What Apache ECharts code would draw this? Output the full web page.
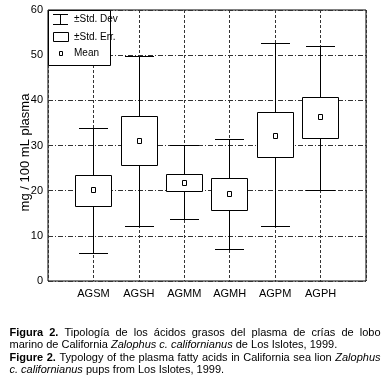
<!DOCTYPE html>
<html>
<head>
<meta charset="utf-8">
<script src="https://cdn.jsdelivr.net/npm/echarts@6/dist/echarts.min.js"></script>
<style>html,body{margin:0;padding:0;background:#fff}#c{width:384px;height:384px}</style>
</head>
<body>
<div id="c"></div>
<script>
// ---- data ----
const categories = ['AGSM', 'AGSH', 'AGMM', 'AGMH', 'AGPM', 'AGPH'];
const meanValues = [20.1, 31.0, 21.8, 19.3, 32.2, 36.2];
const seUpper    = [23.4, 36.5, 23.6, 22.7, 37.3, 40.7];
const seLower    = [16.6, 25.7, 19.9, 15.6, 27.4, 31.7];
const sdUpper    = [33.9, 49.8, 30.0, 31.4, 52.6, 52.0];
const sdLower    = [ 6.1, 12.1, 13.7,  7.0, 12.1, 20.0];
const yMin = 0, yMax = 60, yStep = 10;
const yTitle = 'mg / 100 mL plasma';
const legendLabels = ['±Std. Dev', '±Std. Err.', 'Mean'];

const captionLines = [
  [['Figura','b'],['2.','b'],['Tipología'],['de'],['los'],['ácidos'],['grasos'],['del'],['plasma'],['de'],['crías'],['de'],['lobo']],
  [['marino'],['de'],['California'],['Zalophus','i'],['c.','i'],['californianus','i'],['de'],['Los'],['Islotes,'],['1999.']],
  [['Figure','b'],['2.','b'],['Typology'],['of'],['the'],['plasma'],['fatty'],['acids'],['in'],['California'],['sea'],['lion'],['Zalophus','i']],
  [['c.','i'],['californianus','i'],['pups'],['from'],['Los'],['Islotes,'],['1999.']]
];

const NARROW = '"Liberation Sans Narrow", "Arial Narrow", "Liberation Sans", sans-serif';
const SANS = '"Liberation Sans", Arial, sans-serif';

const chart = echarts.init(document.getElementById('c'), null, {renderer: 'canvas'});

const seriesData = categories.map((c, i) => [i + 1, sdLower[i], seLower[i], meanValues[i], seUpper[i], sdUpper[i]]);

// same half-pixel snapping that zrender applies to 1px axis split lines
function sp(p) {
  const rp = Math.round(p * 2);
  return (rp + 1) % 2 === 0 ? rp / 2 : (rp + 1) / 2;
}

function renderItem(params, api) {
  const x = api.value(0);
  const p = v => api.coord([x, v]);
  const unit = api.size([1, 0])[0];
  const boxW = Math.round(unit * 0.8);
  const capW = Math.round(unit * 0.63);
  const top = p(api.value(5)), seT = p(api.value(4)), m = p(api.value(3)), seB = p(api.value(2)), bot = p(api.value(1));
  const cx = sp(top[0]);
  const st = {stroke: '#000', lineWidth: 1};
  const yT = sp(top[1]), yST = sp(seT[1]), yM = Math.round(m[1]), ySB = sp(seB[1]), yB = sp(bot[1]);
  return {
    type: 'group',
    children: [
      {type: 'line', shape: {x1: cx, y1: yT, x2: cx, y2: yST}, style: st},
      {type: 'line', shape: {x1: cx - capW / 2, y1: yT, x2: cx + capW / 2, y2: yT}, style: st},
      {type: 'line', shape: {x1: cx, y1: ySB, x2: cx, y2: yB}, style: st},
      {type: 'line', shape: {x1: cx - capW / 2, y1: yB, x2: cx + capW / 2, y2: yB}, style: st},
      {type: 'rect', shape: {x: cx - boxW / 2, y: yST, width: boxW, height: ySB - yST}, style: {fill: '#fff', stroke: '#000', lineWidth: 1}},
      {type: 'rect', shape: {x: cx - 2, y: yM - 2.5, width: 4, height: 5}, style: {fill: '#fff', stroke: '#000', lineWidth: 1}}
    ]
  };
}

// ---- caption layout (measured text, justified lines) ----
const mctx = document.createElement('canvas').getContext('2d');
function fontOf(st) {
  return (st === 'i' ? 'italic ' : 'normal ') + (st === 'b' ? 'bold ' : 'normal ') + '11px ' + SANS;
}
function wWidth(w) { mctx.font = fontOf(w[1]); return mctx.measureText(w[0]).width; }
mctx.font = fontOf();
const spaceW = mctx.measureText(' ').width;
const capLeft = 9.5, capRight = 380.5;
const lineYs = [332.5, 345, 357.5, 369.8];
const justified = [true, false, true, false];
const captionGraphics = [];
captionLines.forEach((line, li) => {
  const widths = line.map(w => wWidth(w));
  const total = widths.reduce((a, b) => a + b, 0);
  const gap = justified[li] ? (capRight - capLeft - total) / (line.length - 1) : spaceW;
  let x = capLeft;
  line.forEach((w, wi) => {
    captionGraphics.push({
      type: 'text', x: x, y: lineYs[li], z: 100,
      style: {text: w[0], font: fontOf(w[1]), fill: '#000', align: 'left', verticalAlign: 'middle'}
    });
    x += widths[wi] + gap;
  });
});

const legendGraphics = [
  {type: 'rect', z: 100, shape: {x: 48.5, y: 10.5, width: 62, height: 55}, style: {fill: '#fff', stroke: '#000', lineWidth: 1}},
  {type: 'line', z: 101, shape: {x1: 60.5, y1: 14.5, x2: 60.5, y2: 24.5}, style: {stroke: '#000', lineWidth: 1}},
  {type: 'line', z: 101, shape: {x1: 53, y1: 14.5, x2: 68, y2: 14.5}, style: {stroke: '#000', lineWidth: 1}},
  {type: 'line', z: 101, shape: {x1: 53, y1: 24.5, x2: 68, y2: 24.5}, style: {stroke: '#000', lineWidth: 1}},
  {type: 'text', z: 101, x: 74, y: 19.5, style: {text: legendLabels[0], font: '10px ' + NARROW, fill: '#000', verticalAlign: 'middle'}},
  {type: 'rect', z: 101, shape: {x: 53.5, y: 32.5, width: 15, height: 9}, style: {fill: '#fff', stroke: '#000', lineWidth: 1}},
  {type: 'text', z: 101, x: 74, y: 37, style: {text: legendLabels[1], font: '10px ' + NARROW, fill: '#000', verticalAlign: 'middle'}},
  {type: 'rect', z: 101, shape: {x: 59.5, y: 51.5, width: 3, height: 4}, style: {fill: '#fff', stroke: '#000', lineWidth: 1}},
  {type: 'text', z: 101, x: 74, y: 53.5, style: {text: legendLabels[2], font: '10px ' + NARROW, fill: '#000', verticalAlign: 'middle'}}
];

const titleGraphic = {
  type: 'text', z: 100, x: 25, y: 152.5, rotation: Math.PI / 2,
  style: {text: yTitle, font: '13px ' + SANS, fill: '#000', align: 'center', verticalAlign: 'middle'}
};

chart.setOption({
  animation: false,
  backgroundColor: '#fff',
  grid: {left: 48, top: 10, right: 18, bottom: 103, show: true, borderColor: '#000', borderWidth: 1, backgroundColor: '#fff'},
  xAxis: {
    type: 'value', min: 0, max: categories.length + 1, interval: 1,
    axisLine: {show: false}, axisTick: {show: false},
    axisLabel: {formatter: v => categories[v - 1] || '', color: '#000', fontFamily: NARROW, fontSize: 11, margin: 7},
    splitLine: {show: true, lineStyle: {color: '#333', width: 1, type: [3, 2]}}
  },
  yAxis: {
    type: 'value', min: yMin, max: yMax, interval: yStep,
    axisLine: {show: false}, axisTick: {show: false},
    axisLabel: {color: '#000', fontFamily: NARROW, fontSize: 11, margin: 5},
    splitLine: {show: true, lineStyle: {color: '#333', width: 1, type: [5, 2, 1, 2]}}
  },
  series: [{
    type: 'custom', renderItem: renderItem, data: seriesData,
    encode: {x: 0, y: [1, 2, 3, 4, 5]}, z: 5, clip: false
  }],
  graphic: legendGraphics.concat([titleGraphic]).concat(captionGraphics)
});
</script>
</body>
</html>
